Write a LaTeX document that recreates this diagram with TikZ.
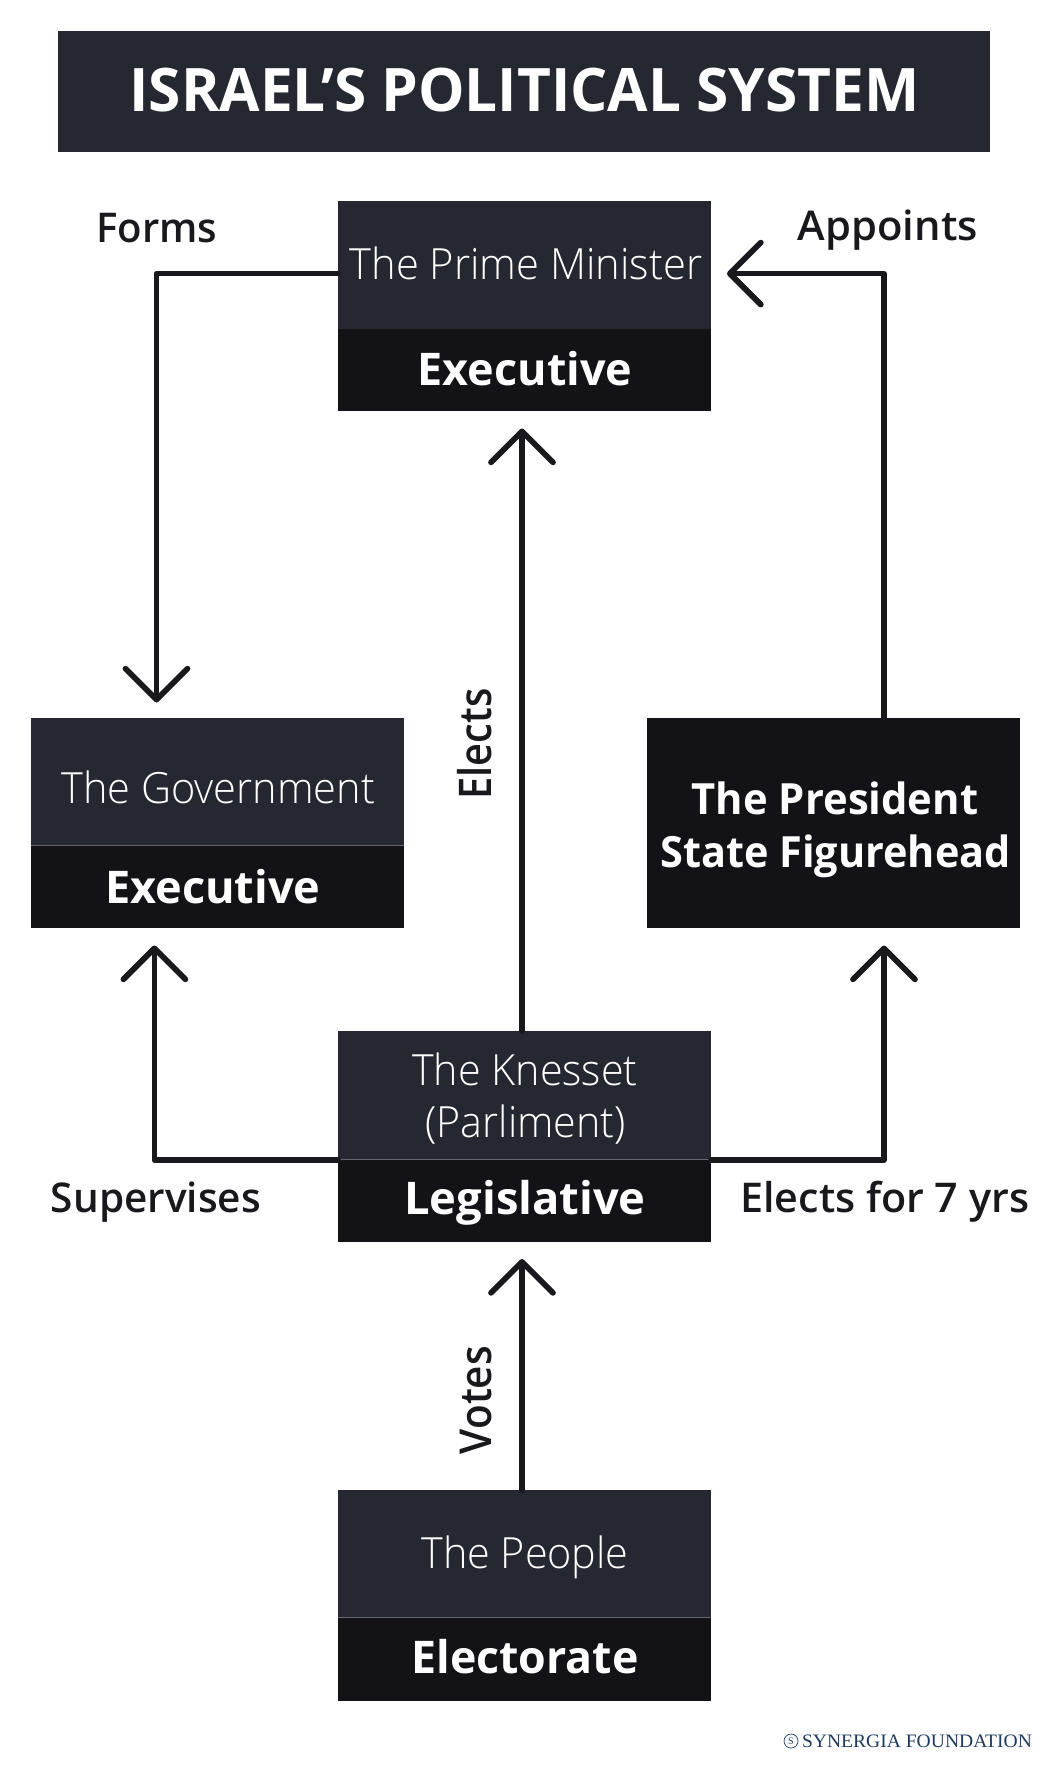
\documentclass[tikz,border=0pt]{standalone}
\usepackage{fontspec}
\usepackage{graphicx}
\usetikzlibrary{arrows.meta}
\setmainfont{Open Sans}
\newfontfamily\thinf{Open Sans Light}
\newfontfamily\semif{Open Sans Semibold}
\newfontfamily\boldf{Open Sans}
\newfontfamily\serf{Liberation Serif}
\definecolor{boxa}{HTML}{252731}
\definecolor{boxb}{HTML}{131317}
\definecolor{ink}{HTML}{18181D}
\definecolor{navy}{HTML}{1F3A5F}
\newcommand\fitt[4]{\resizebox{#3pt}{\height}{\fontsize{#2pt}{#2pt}#1#4}}
\tikzset{
  x=1pt,y=-1pt,
  panel/.style={draw=none,inner sep=0pt,outer sep=0pt,minimum width=373pt},
  panela/.style={panel,fill=boxa},
  panelb/.style={panel,fill=boxb},
  txt/.style={inner sep=0pt,outer sep=0pt,anchor=base,text=white},
  lab/.style={inner sep=0pt,outer sep=0pt,anchor=base,text=ink},
  link/.style={draw=ink,line width=5.7pt,line join=round,line cap=round,
    -{Straight Barb[length=31pt,width=62pt,round]}},
  seam/.style={draw=white!30!boxa,line width=0.8pt}
}
\begin{document}
\begin{tikzpicture}
\useasboundingbox (0,0) rectangle (1048,1766);
% title
\node[fill=boxa,inner sep=0pt,minimum width=932pt,minimum height=120.5pt] (title) at (524,91.25) {};
\node[txt] (titlet) at (524.5,112) {\fitt{\boldf\bfseries}{60}{790}{ISRAEL’S POLITICAL SYSTEM}};
% prime minister
\node[panela,minimum height=128.5pt] (pm) at (524.5,264.75) {};
\node[panelb,minimum height=82pt] (pmb) at (524.5,370) {};
\node[txt] (pmt) at (526,279) {\fitt{\thinf}{43}{352.5}{The Prime Minister}};
\node[txt] (pmbt) at (525,385.4) {\fitt{\boldf\bfseries}{45}{214.5}{Executive}};
% government
\node[panela,minimum height=127pt] (gov) at (217.5,781.5) {};
\node[panelb,minimum height=83pt] (govb) at (217.5,886.5) {};
\node[txt] (govt) at (218.3,803) {\fitt{\thinf}{43}{313.5}{The Government}};
\node[txt] (govbt) at (212.8,903) {\fitt{\boldf\bfseries}{45}{215.3}{Executive}};
% president
\node[panelb,minimum height=210pt] (pres) at (833,823) {};
\node[txt] (prest) at (835,814) {\fitt{\boldf\bfseries}{43}{286.5}{The President}};
\node[txt] (presb) at (835.5,867) {\fitt{\boldf\bfseries}{43}{350.5}{State Figurehead}};
% knesset
\node[panela,minimum height=128pt] (kn) at (524.5,1095) {};
\node[panelb,minimum height=82.5pt] (knb) at (524.5,1200.25) {};
\node[txt] (knt) at (525,1085) {\fitt{\thinf}{43}{225.3}{The Knesset}};
\node[txt] (knp) at (525.7,1137.5) {\fitt{\thinf}{43}{200}{(Parliment)}};
\node[txt] (knbt) at (525,1214) {\fitt{\boldf\bfseries}{45}{241.5}{Legislative}};
% people
\node[panela,minimum height=127pt] (ppl) at (524.5,1553.5) {};
\node[panelb,minimum height=83.7pt] (pplb) at (524.5,1658.85) {};
\node[txt] (pplt) at (525,1568.5) {\fitt{\thinf}{43}{207.3}{The People}};
\node[txt] (pplbt) at (525,1673) {\fitt{\boldf\bfseries}{45}{227.3}{Electorate}};
% seams
\draw[seam] (gov.south west) -- (gov.south east);
\draw[seam] (ppl.south west) -- (ppl.south east);
\draw[seam] (kn.south west) -- (kn.south east);
% bends
\coordinate (formsbend) at (156.5,273.6);
\coordinate (appbend) at (883.7,273.6);
\coordinate (supbend) at (154.4,1160);
\coordinate (elbend) at (884,1160);
\coordinate (mid) at (522,900);
% connectors
\draw[link,shorten >=15.5pt] (formsbend -| pm.west) -- (formsbend) -- (formsbend |- gov.north);
\draw[link,shorten >=16pt] (appbend |- pres.north) -- (appbend) -- (appbend -| pm.east);
\draw[link,shorten >=17.5pt] (mid |- kn.north) -- (mid |- pmb.south);
\draw[link,shorten >=17.5pt] (supbend -| kn.west) -- (supbend) -- (supbend |- govb.south);
\draw[link,shorten >=17.5pt] (elbend -| kn.east) -- (elbend) -- (elbend |- pres.south);
\draw[link,shorten >=17.5pt] (mid |- ppl.north) -- (mid |- knb.south);
% labels
\node[lab] (forms) at (156.7,242) {\fitt{\semif}{41}{121}{Forms}};
\node[lab] (appoints) at (887.8,240) {\fitt{\semif}{41}{180}{Appoints}};
\node[lab,rotate=90] (elects) at (491,744) {\fitt{\semif}{45}{111}{Elects}};
\node[lab] (superv) at (156,1212) {\fitt{\semif}{41}{210}{Supervises}};
\node[lab] (elect7) at (884.8,1212) {\fitt{\semif}{41}{289}{Elects for 7 yrs}};
\node[lab,rotate=90] (votes) at (491,1400) {\fitt{\semif}{44}{108}{Votes}};
\node[txt,text=navy] (credit) at (917,1747) {\resizebox{230pt}{\height}{\fontsize{19pt}{19pt}\serf SYNERGIA FOUNDATION}};
\node[draw=navy,line width=0.7pt,circle,inner sep=0pt,minimum size=14pt,text=navy] (mark) at (791,1741) {\fontsize{10pt}{10pt}\serf S};
\end{tikzpicture}
\end{document}
